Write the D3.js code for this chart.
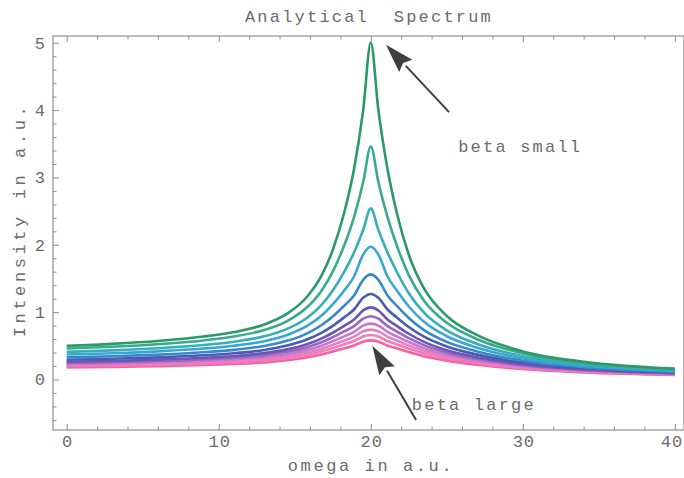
<!DOCTYPE html>
<html>
<head>
<meta charset="utf-8">
<script src="https://cdn.jsdelivr.net/npm/d3@7"></script>
<style>
  html, body { margin: 0; padding: 0; background: #fff; }
  svg { display: block; }
  text { font-family: "Liberation Mono", "DejaVu Sans Mono", monospace; fill: #6b6b6b; }
</style>
</head>
<body>
<svg id="chart" width="684" height="478"></svg>
<script>
// omega grid (a.u.)
const omega = [0, 3, 6, 9, 11, 13, 14.5, 15.75, 16.75, 17.5, 18.25, 18.9, 19.5, 20, 20.5, 21.1, 21.75, 22.5, 23.5, 25, 27, 30, 34, 40];

// intensity of each curve, beta small (top) to beta large (bottom)
const curve0  = [0.500, 0.529, 0.571, 0.637, 0.704, 0.817, 0.977, 1.214, 1.538, 1.923, 2.475, 3.125, 4.000, 5.000, 4.000, 3.125, 2.439, 1.852, 1.351, 0.943, 0.658, 0.417, 0.263, 0.161];
const curve1  = [0.460, 0.486, 0.523, 0.580, 0.638, 0.735, 0.868, 1.061, 1.315, 1.602, 1.990, 2.412, 2.929, 3.460, 2.929, 2.412, 1.965, 1.550, 1.170, 0.841, 0.598, 0.386, 0.246, 0.152];
const curve2  = [0.410, 0.432, 0.464, 0.512, 0.561, 0.641, 0.751, 0.906, 1.104, 1.320, 1.598, 1.886, 2.219, 2.540, 2.219, 1.886, 1.581, 1.281, 0.992, 0.729, 0.527, 0.345, 0.223, 0.138];
const curve3  = [0.370, 0.389, 0.417, 0.459, 0.501, 0.569, 0.661, 0.788, 0.946, 1.114, 1.322, 1.529, 1.854, 1.970, 1.854, 1.529, 1.309, 1.084, 0.857, 0.642, 0.472, 0.313, 0.204, 0.128];
const curve4  = [0.328, 0.345, 0.369, 0.405, 0.440, 0.498, 0.574, 0.678, 0.805, 0.936, 1.095, 1.248, 1.480, 1.560, 1.480, 1.248, 1.085, 0.913, 0.734, 0.559, 0.416, 0.279, 0.184, 0.116];
const curve5  = [0.293, 0.308, 0.328, 0.359, 0.390, 0.438, 0.503, 0.589, 0.693, 0.797, 0.922, 1.039, 1.212, 1.270, 1.212, 1.039, 0.914, 0.779, 0.635, 0.490, 0.369, 0.250, 0.166, 0.105];
const curve6  = [0.264, 0.277, 0.295, 0.322, 0.349, 0.391, 0.447, 0.520, 0.607, 0.694, 0.795, 0.889, 1.025, 1.070, 1.025, 0.889, 0.789, 0.679, 0.559, 0.435, 0.331, 0.226, 0.151, 0.096];
const curve7  = [0.247, 0.258, 0.275, 0.299, 0.323, 0.362, 0.411, 0.476, 0.552, 0.627, 0.713, 0.792, 0.903, 0.940, 0.903, 0.792, 0.708, 0.614, 0.510, 0.401, 0.307, 0.212, 0.142, 0.091];
const curve8  = [0.230, 0.241, 0.256, 0.278, 0.300, 0.334, 0.378, 0.436, 0.502, 0.567, 0.641, 0.707, 0.800, 0.830, 0.800, 0.707, 0.636, 0.556, 0.466, 0.370, 0.285, 0.198, 0.134, 0.086];
const curve9  = [0.214, 0.223, 0.237, 0.257, 0.277, 0.308, 0.348, 0.399, 0.458, 0.514, 0.578, 0.636, 0.715, 0.740, 0.715, 0.636, 0.575, 0.505, 0.425, 0.340, 0.264, 0.184, 0.125, 0.080];
const curve10 = [0.198, 0.207, 0.219, 0.237, 0.255, 0.283, 0.319, 0.365, 0.417, 0.466, 0.522, 0.571, 0.638, 0.660, 0.638, 0.571, 0.519, 0.458, 0.388, 0.312, 0.243, 0.171, 0.116, 0.075];
const curve11 = [0.178, 0.186, 0.197, 0.214, 0.230, 0.254, 0.286, 0.326, 0.371, 0.414, 0.462, 0.504, 0.562, 0.580, 0.562, 0.504, 0.459, 0.407, 0.346, 0.280, 0.219, 0.155, 0.105, 0.068];

const seriesValues = [curve0, curve1, curve2, curve3, curve4, curve5, curve6, curve7, curve8, curve9, curve10, curve11];
const seriesColors = ["#2b9a66", "#38ab8c", "#37afb6", "#3aa6d6", "#3a88cc", "#4a5cb2", "#6a56b4", "#9a66c4", "#c877cc", "#e281c6", "#f07cb4", "#ff5e9e"];

const xTickLabels = [0, 10, 20, 30, 40];
const yTickLabels = [0, 1, 2, 3, 4, 5];

const titleText = "Analytical  Spectrum";
const xTitle = "omega in a.u.";
const yTitle = "Intensity in a.u.";

// annotations: arrow tail -> tip, label position (data units)
const annotations = [
  { label: "beta small", tail: [25.15, 3.97], tip: [21.0, 4.97], text: [25.75, 3.38] },
  { label: "beta large", tail: [22.98, -0.60], tip: [20.1, 0.50], text: [22.7, -0.45] }
];

const svg = d3.select("#chart");
const W = 684, H = 478;
const frame = { left: 53, right: 684, top: 36, bottom: 430 };

const x = d3.scaleLinear().domain([-0.9, 40.6]).range([frame.left, frame.right]);
const y = d3.scaleLinear().domain([-0.75, 5.1]).range([frame.bottom, frame.top]);

const frameColor = "#8f8f8f";

// frame
svg.append("rect")
  .attr("x", frame.left).attr("y", frame.top)
  .attr("width", frame.right - frame.left).attr("height", frame.bottom - frame.top)
  .attr("fill", "none").attr("stroke", frameColor).attr("stroke-width", 1.2);

// ticks (inward) using d3 axes
const xMajor = d3.range(0, 41, 10);
const xMinor = d3.range(0, 41, 2).filter(v => v % 10 !== 0);
const yMajor = d3.range(0, 6, 1);
const yMinor = d3.range(-0.6, 5.05, 0.2).map(v => Math.round(v * 10) / 10).filter(v => Math.abs(v - Math.round(v)) > 1e-6);

function tickAxis(axisGen, values, size, transform) {
  const g = svg.append("g").attr("transform", transform)
    .call(axisGen.tickValues(values).tickSize(size).tickFormat(""));
  g.select(".domain").remove();
  g.selectAll("line").attr("stroke", frameColor).attr("stroke-width", 1);
  return g;
}
tickAxis(d3.axisBottom(x), xMajor, -6, `translate(0,${frame.bottom})`);
tickAxis(d3.axisBottom(x), xMinor, -3.5, `translate(0,${frame.bottom})`);
tickAxis(d3.axisTop(x), xMajor, -6, `translate(0,${frame.top})`);
tickAxis(d3.axisTop(x), xMinor, -3.5, `translate(0,${frame.top})`);
tickAxis(d3.axisLeft(y), yMajor, -6, `translate(${frame.left},0)`);
tickAxis(d3.axisLeft(y), yMinor, -3.5, `translate(${frame.left},0)`);

// tick labels
const fontSize = 17;
const spacing = "2.2px";
svg.append("g").selectAll("text").data(xTickLabels).join("text")
  .attr("x", d => Math.min(x(d) + 1, W - 12)).attr("y", frame.bottom + 17)
  .attr("text-anchor", "middle")
  .attr("font-size", fontSize).attr("letter-spacing", "1px")
  .text(d => d);
svg.append("g").selectAll("text").data(yTickLabels).join("text")
  .attr("x", frame.left - 8).attr("y", d => y(d) + 6)
  .attr("text-anchor", "end")
  .attr("font-size", fontSize)
  .text(d => d);

// titles
svg.append("text").attr("x", 369).attr("y", 22).attr("text-anchor", "middle")
  .attr("font-size", fontSize).attr("letter-spacing", spacing)
  .style("white-space", "pre").text(titleText);
svg.append("text").attr("x", 371).attr("y", 471).attr("text-anchor", "middle")
  .attr("font-size", fontSize).attr("letter-spacing", "2.6px")
  .style("white-space", "pre").text(xTitle);
svg.append("text")
  .attr("transform", `translate(25,220) rotate(-90)`)
  .attr("text-anchor", "middle")
  .attr("font-size", fontSize).attr("letter-spacing", "3.6px")
  .style("white-space", "pre").text(yTitle);

// curves
const line = d3.line()
  .x((d, i) => x(omega[i]))
  .y(d => y(d))
  .curve(d3.curveMonotoneX);

const plot = svg.append("g");
for (let k = seriesValues.length - 1; k >= 0; k--) {
  plot.append("path")
    .attr("d", line(seriesValues[k]))
    .attr("fill", "none")
    .attr("stroke", seriesColors[k])
    .attr("stroke-width", 2.6)
    .attr("stroke-linejoin", "round")
    .attr("stroke-linecap", "butt");
}

// annotations
const arrowColor = "#3f3f3f";
annotations.forEach(a => {
  const [tx0, ty0] = [x(a.tail[0]), y(a.tail[1])];
  const [px, py] = [x(a.tip[0]), y(a.tip[1])];
  const ang = Math.atan2(py - ty0, px - tx0);
  const headLen = 29, headW = 9;
  const bx = px - headLen * Math.cos(ang), by = py - headLen * Math.sin(ang);
  svg.append("line")
    .attr("x1", tx0).attr("y1", ty0).attr("x2", bx).attr("y2", by)
    .attr("stroke", arrowColor).attr("stroke-width", 2);
  const nx = -Math.sin(ang), ny = Math.cos(ang);
  const back = 4;
  const cx = bx + back * Math.cos(ang), cy = by + back * Math.sin(ang);
  svg.append("path")
    .attr("d", `M${px},${py} L${bx + headW * nx},${by + headW * ny} L${cx},${cy} L${bx - headW * nx},${by - headW * ny} Z`)
    .attr("fill", arrowColor);
  svg.append("text")
    .attr("x", x(a.text[0])).attr("y", y(a.text[1]))
    .attr("font-size", fontSize).attr("letter-spacing", spacing)
    .style("white-space", "pre").text(a.label);
});
</script>
</body>
</html>
